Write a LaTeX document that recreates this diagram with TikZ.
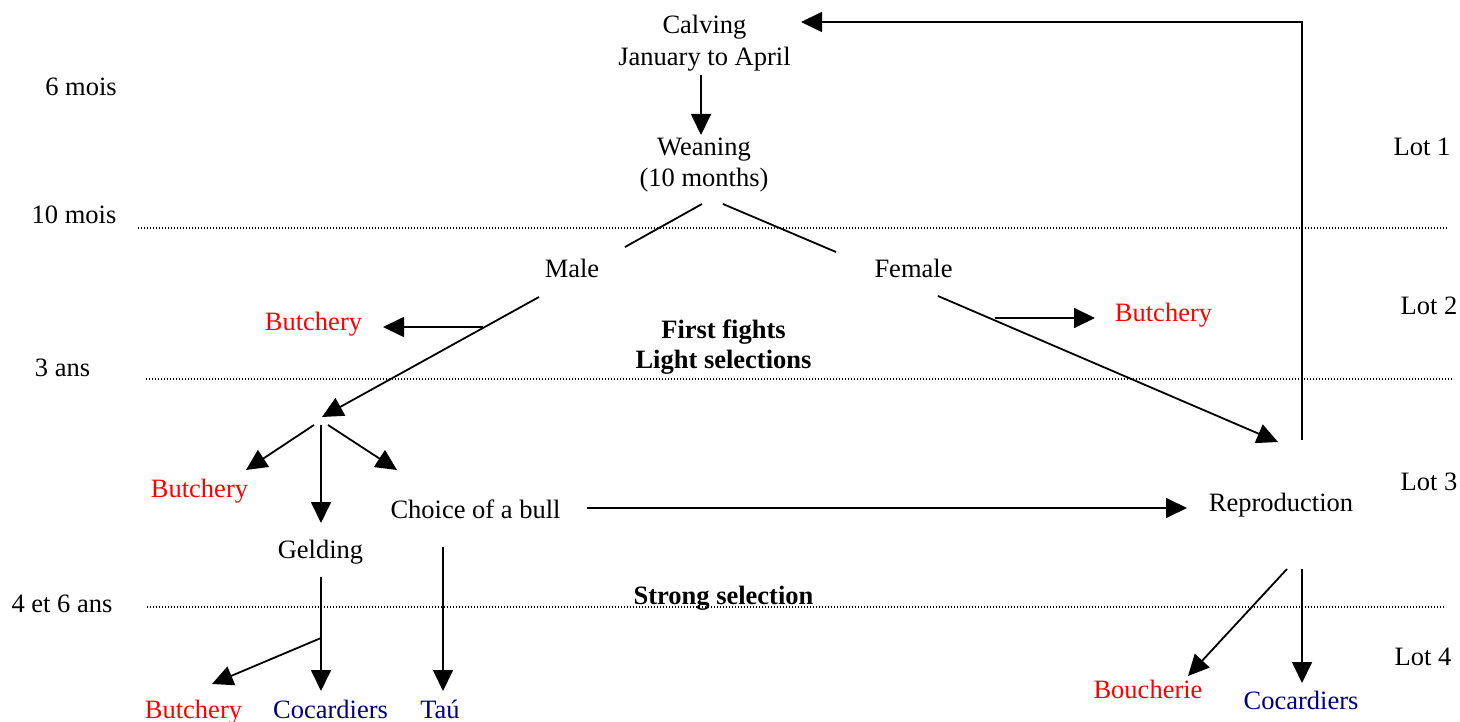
\documentclass[tikz,border=0pt]{standalone}
\usepackage{fontspec}
\setmainfont{Liberation Serif}
\usetikzlibrary{arrows.meta}
\definecolor{bred}{RGB}{255,0,0}
\definecolor{bblue}{RGB}{0,0,128}
\begin{document}
\begin{tikzpicture}[x=1pt,y=-1pt,
  every node/.style={inner sep=0pt, font=\fontsize{26.5}{31.5}\selectfont},
  lbl/.style={anchor=base},
  redtxt/.style={anchor=base, text=bred},
  bluetxt/.style={anchor=base, text=bblue},
  boldtxt/.style={font=\fontsize{26.5}{30}\selectfont\bfseries, align=center},
  conn/.style={line width=1.8pt},
  arr/.style={conn, -{Triangle[length=21pt,width=20pt]}},
  sep/.style={line width=1.2pt, dash pattern=on 1.2pt off 1.8pt},
]
\useasboundingbox (0,0) rectangle (1460,722);

% age labels
\node[lbl] (m6) at (81,96) {6 mois};
\node[lbl] (m10) at (74,224) {10 mois};
\node[lbl] (a3) at (62.5,376) {3 ans};
\node[lbl] (a46) at (62,612) {4 et 6 ans};

% lot labels
\node[lbl] (lot1) at (1422,156) {Lot 1};
\node[lbl] (lot2) at (1429,315) {Lot 2};
\node[lbl] (lot3) at (1429,490) {Lot 3};
\node[lbl] (lot4) at (1423,665) {Lot 4};

% separators
\draw[sep] (138,228) -- (1447,228);
\draw[sep] (146,379) -- (1454,379);
\draw[sep] (147,607) -- (1446,607);

% main nodes
\node[align=center] (calving) at (704.5,43) {Calving\\January to April};
\node[align=center] (weaning) at (704,165) {Weaning\\(10 months)};
\node[lbl] (male) at (572,277.5) {Male};
\node[lbl] (female) at (913.5,277.5) {Female};
\node[boldtxt] (fights) at (723.5,347) {First fights\\Light selections};
\node[redtxt] (butch1) at (313.5,330.5) {Butchery};
\node[redtxt] (butch2) at (1163.5,321) {Butchery};
\node[redtxt] (butch3) at (199.5,497.5) {Butchery};
\node[lbl] (choice) at (475.5,518) {Choice of a bull};
\node[lbl] (gelding) at (320.5,558) {Gelding};
\node[lbl] (repro) at (1281,511.5) {Reproduction};
\node[boldtxt, anchor=base] (strong) at (723.5,604) {Strong selection};
\node[redtxt] (butch4) at (193.5,718.5) {Butchery};
\node[bluetxt] (coc1) at (330.5,718.5) {Cocardiers};
\node[bluetxt] (tau) at (440,718.5) {Taú};
\node[redtxt] (bouch) at (1148,698.5) {Boucherie};
\node[bluetxt] (coc2) at (1301,709.5) {Cocardiers};

% connector end points
\coordinate (calvOut) at (701,75);
\coordinate (weanIn) at (701,135);
\coordinate (weanL) at (702,204);
\coordinate (maleIn) at (625,247);
\coordinate (weanR) at (723,204);
\coordinate (femIn) at (836,252);
\coordinate (maleOut) at (539,297);
\coordinate (split) at (322,417);
\coordinate (mbStart) at (483,327);
\coordinate (mbEnd) at (383,327);
\coordinate (femOut) at (938,296);
\coordinate (repIn) at (1278,442);
\coordinate (fbStart) at (995,318);
\coordinate (fbEnd) at (1095,318);
\coordinate (loopStart) at (1302,440);
\coordinate (loopCorner) at (1302,22);
\coordinate (calvIn) at (801,22);
\coordinate (spL) at (314,425);
\coordinate (spLEnd) at (246,470);
\coordinate (spC) at (321,425);
\coordinate (spCEnd) at (321,523);
\coordinate (spR) at (328,425);
\coordinate (spREnd) at (397,470);
\coordinate (chOut) at (587,508);
\coordinate (repInL) at (1187,508);
\coordinate (gelOut) at (321,577);
\coordinate (gelSplit) at (321,638);
\coordinate (gelEnd) at (321,691);
\coordinate (gelBEnd) at (212,684);
\coordinate (chDown) at (443,547);
\coordinate (chEnd) at (443,691);
\coordinate (repOutL) at (1287,569);
\coordinate (bouchIn) at (1188,676);
\coordinate (repOut) at (1302,569);
\coordinate (coc2In) at (1302,683);

% connectors
\draw[arr] (calvOut) -- (weanIn);
\draw[conn] (weanL) -- (maleIn);
\draw[conn] (weanR) -- (femIn);
\draw[arr] (maleOut) -- (split);
\draw[arr] (mbStart) -- (mbEnd);
\draw[arr] (femOut) -- (repIn);
\draw[arr] (fbStart) -- (fbEnd);
\draw[arr] (loopStart) -- (loopCorner) -- (calvIn);
\draw[arr] (spL) -- (spLEnd);
\draw[arr] (spC) -- (spCEnd);
\draw[arr] (spR) -- (spREnd);
\draw[arr] (chOut) -- (repInL);
\draw[arr] (gelOut) -- (gelEnd);
\draw[arr] (gelSplit) -- (gelBEnd);
\draw[arr] (chDown) -- (chEnd);
\draw[arr] (repOutL) -- (bouchIn);
\draw[arr] (repOut) -- (coc2In);
\end{tikzpicture}
\end{document}
